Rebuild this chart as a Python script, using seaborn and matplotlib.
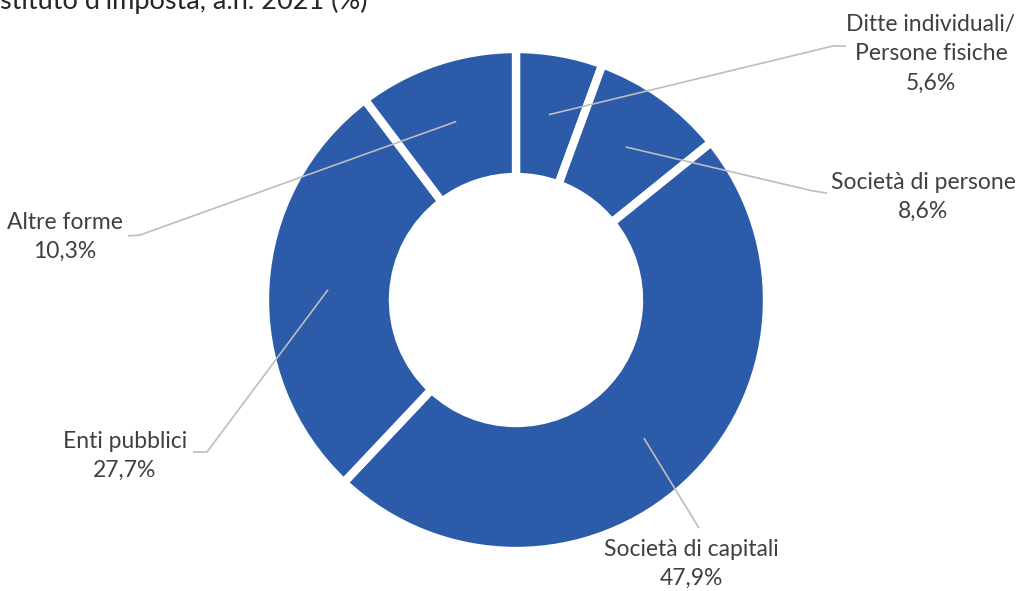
import numpy as np
import matplotlib
matplotlib.use("Agg")
import matplotlib.pyplot as plt
import seaborn as sns

# Quote per forma giuridica del sostituto d'imposta (a.n. 2021)
categories = ["Ditte individuali/\nPersone fisiche", "Società di persone",
              "Società di capitali", "Enti pubblici", "Altre forme"]
shares = [5.6, 8.6, 47.9, 27.7, 10.3]
title = "stituto d'imposta, a.n. 2021 (%)"

sns.set_theme(style="white")
plt.rcParams["font.family"] = ["Lato", "DejaVu Sans"]

W, H = 1020, 591
fig = plt.figure(figsize=(W / 100, H / 100), dpi=100)
ax = fig.add_axes([0, 0, 1, 1])

blue = sns.color_palette(["#2B5BA9"])[0]
cx, cy = 516, H - 300
R = 251
ring = 0.51

wedges, _ = ax.pie(shares, colors=[blue] * len(shares), startangle=90,
                   counterclock=False, center=(cx, cy), radius=R,
                   wedgeprops=dict(width=R * ring, edgecolor="white", linewidth=6))
ax.set_xlim(0, W)
ax.set_ylim(0, H)
ax.set_aspect("equal")
ax.axis("off")

text_col = "#404040"
line_col = "#BDBDBD"

# label placement: text centre, elbow and end of the leader (px from top)
layout = [
    dict(tx=931, ty=54, elbow=(833, 46), end=(846, 46)),
    dict(tx=923, ty=197, elbow=(813, 191), end=(827, 193)),
    dict(tx=691, ty=564, elbow=(699, 528), end=(699, 528)),
    dict(tx=125, ty=456, elbow=(207, 452), end=(193, 452)),
    dict(tx=65, ty=237, elbow=(140, 235), end=(128, 236)),
]

for w, cat, val, lay in zip(wedges, categories, shares, layout):
    mid = np.deg2rad((w.theta1 + w.theta2) / 2)
    r_anchor = R * 0.75
    ax_, ay_ = cx + r_anchor * np.cos(mid), cy + r_anchor * np.sin(mid)
    ex, ey = lay["elbow"]
    nx, ny = lay["end"]
    ax.plot([ax_, ex, nx], [ay_, H - ey, H - ny], color=line_col, lw=1.2,
            solid_capstyle="butt")
    lbl = f"{cat}\n{val:.1f}%".replace(".", ",")
    ax.text(lay["tx"], H - lay["ty"], lbl, ha="center", va="center",
            fontsize=16.5, color=text_col, linespacing=1.5)

fig.text(0.0, 1 - 9 / H, title, ha="left", va="baseline", fontsize=19.5,
         color="#262626")

fig.savefig("out.png", dpi=100, facecolor="white")
